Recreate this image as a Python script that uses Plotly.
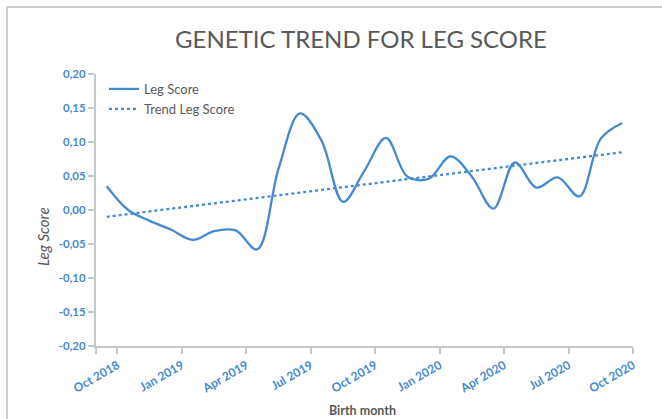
import numpy as np
import pandas as pd
import plotly.graph_objects as go

# ---- data ----
months = pd.date_range("2018-09-01", "2020-09-01", freq="MS")
month_labels = [m.strftime("%b %Y") for m in months]
leg_score = [0.035, 0.000, -0.016, -0.029, -0.044, -0.031, -0.030, -0.058,
             0.061, 0.142, 0.102, 0.012, 0.058, 0.106, 0.049, 0.046,
             0.079, 0.049, 0.002, 0.070, 0.033, 0.048, 0.020, 0.105, 0.128]
tick_labels = ["Oct 2018", "Jan 2019", "Apr 2019", "Jul 2019", "Oct 2019",
               "Jan 2020", "Apr 2020", "Jul 2020", "Oct 2020"]
y_ticks = [0.20, 0.15, 0.10, 0.05, 0.00, -0.05, -0.10, -0.15, -0.20]

# month index positions
x_idx = np.arange(len(months))
coef = np.polyfit(x_idx, leg_score, 1)
trend = np.polyval(coef, x_idx)

start = months[0]
def boundary_pos(label):
    d = pd.to_datetime(label, format="%b %Y")
    return (d.year - start.year) * 12 + (d.month - start.month) - 0.5

tick_pos = [-0.5] + [boundary_pos(t) for t in tick_labels]
tick_text = [""] + tick_labels
y_text = [f"{v:.2f}".replace(".", ",") for v in y_ticks]

BLUE = "#4589d0"
GRAY_T = "#595959"
AX = "#c3c8c8"
FONT = "Lato"

fig = go.Figure()
fig.add_trace(go.Scatter(x=x_idx, y=leg_score, mode="lines", name="Leg Score",
                         line=dict(color=BLUE, width=2.3, shape="spline", smoothing=1.0),
                         text=month_labels, hovertemplate="%{text}: %{y}<extra></extra>"))
fig.add_trace(go.Scatter(x=x_idx, y=trend, mode="lines", name="Trend Leg Score",
                         line=dict(color=BLUE, width=2.3, dash="dot")))

W, H = 662, 419
L, R, T, B = 96, 29, 74, 73
pw, ph = W - L - R, H - T - B

def px(xp):
    return (xp - L) / pw
def py(yp):
    return (H - B - yp) / ph

fig.update_layout(
    width=W, height=H,
    margin=dict(l=L, r=R, t=T, b=B),
    paper_bgcolor="white", plot_bgcolor="white",
    font=dict(family=FONT, color=GRAY_T),
    title=dict(text="GENETIC TREND FOR LEG SCORE", x=px(361), xref="paper",
               xanchor="center", y=1 - 40 / H, yanchor="middle",
               font=dict(size=24, color=GRAY_T, family=FONT)),
    showlegend=True,
    legend=dict(x=px(104), y=py(74), xanchor="left", yanchor="top",
                bgcolor="rgba(0,0,0,0)", font=dict(size=13, color=GRAY_T),
                tracegroupgap=0, itemwidth=30),
    xaxis=dict(range=[-0.5, len(months) - 0.5], tickmode="array",
               tickvals=tick_pos, ticktext=tick_text, tickangle=-30,
               showgrid=False, zeroline=False, showline=True, linecolor=AX,
               linewidth=2, ticks="outside", ticklen=6, tickcolor=AX, tickwidth=1.5,
               tickfont=dict(size=12, color=BLUE, family=FONT, weight="bold")),
    yaxis=dict(range=[-0.2, 0.2], tickmode="array", tickvals=y_ticks,
               ticktext=y_text, showgrid=False, zeroline=False, showline=True,
               linecolor=AX, linewidth=2, ticks="outside", ticklen=6,
               tickcolor=AX, tickwidth=1.5,
               tickfont=dict(size=11.5, color=BLUE, family=FONT, weight="bold")),
    annotations=[
        dict(text="Leg Score", x=px(43), y=py(236), xref="paper", yref="paper",
             xanchor="center", yanchor="middle",
             showarrow=False, textangle=-90,
             font=dict(size=15, color=GRAY_T, family=FONT, style="italic")),
        dict(text="<b>Birth month</b>", x=px(362), y=py(410), xref="paper", yref="paper",
             xanchor="center", yanchor="middle",
             showarrow=False, font=dict(size=12.5, color=GRAY_T, family=FONT)),
    ],
    shapes=[
        dict(type="line", xref="paper", yref="paper", x0=px(7), x1=px(662),
             y0=py(7), y1=py(7), line=dict(color="#bfbfbf", width=1.5)),
        dict(type="line", xref="paper", yref="paper", x0=px(7), x1=px(7),
             y0=py(7), y1=py(419), line=dict(color="#bfbfbf", width=1.5)),
    ],
)

fig.write_html("out.html", config={"displayModeBar": False},
               post_script="document.body.style.margin='0';document.body.style.overflow='hidden';")
